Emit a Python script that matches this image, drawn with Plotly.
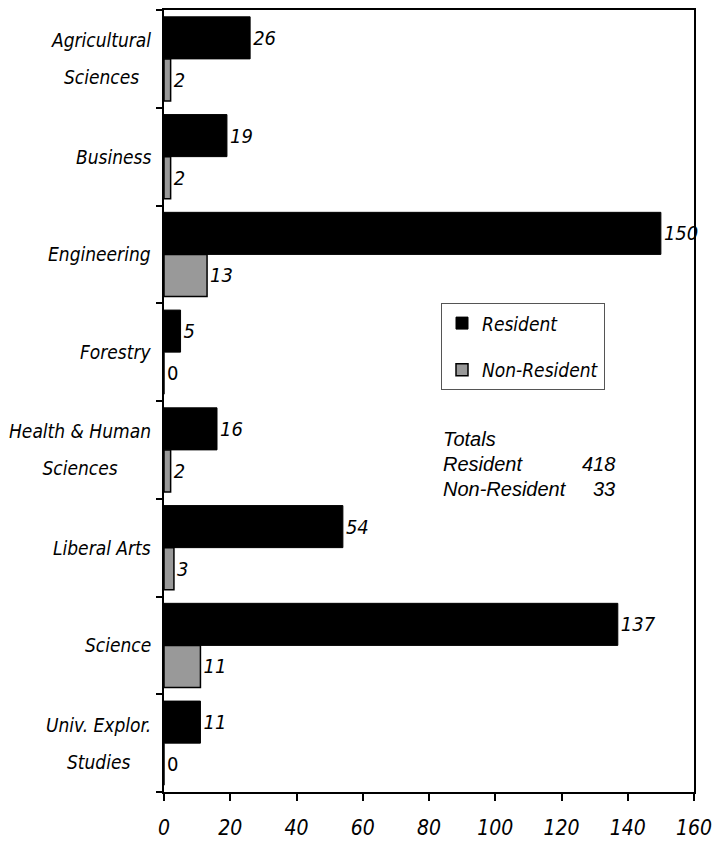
import plotly.graph_objects as go

categories = ["Agricultural<br>Sciences", "Business", "Engineering", "Forestry",
              "Health & Human<br>Sciences", "Liberal Arts", "Science", "Univ. Explor.<br>Studies"]
resident = [26, 19, 150, 5, 16, 54, 137, 11]
non_resident = [2, 2, 13, 0, 2, 3, 11, 0]
x_ticks = [0, 20, 40, 60, 80, 100, 120, 140, 160]
totals_labels = ["Totals", "Resident", "Non-Resident"]
totals_values = ["", "418", "33"]

NARROW = "Liberation Sans Narrow, Arial Narrow, DejaVu Sans Condensed, sans-serif"
REG = "Liberation Sans, Arial, sans-serif"

OFF = 8  # page body margin
W, H = 727 - OFF, 842 - OFF
ML, MR, MT, MB = 156, 33, 0, 50
PW, PH = W - ML - MR, H - MT - MB


def px_x(sx):
    return (sx - OFF - ML) / PW


def px_y(sy):
    return (H - MB - (sy - OFF)) / PH


def lab(v):
    return str(v) if v == 0 else "<i>%d</i>" % v


cat_ids = list(range(len(categories)))

fig = go.Figure()
fig.add_trace(go.Bar(
    y=cat_ids, x=resident, orientation="h", name="<i>Resident</i>",
    marker=dict(color="#000000", line=dict(color="#000000", width=1)),
    text=[lab(v) for v in resident], textposition="outside",
    textfont=dict(family=NARROW, size=20, color="#000"),
    cliponaxis=False, legendgroup="a",
))
fig.add_trace(go.Bar(
    y=cat_ids, x=non_resident, orientation="h", name="<i>Non-Resident</i>",
    marker=dict(color="#999999", line=dict(color="#000000", width=1.5)),
    text=[lab(v) for v in non_resident], textposition="outside",
    textfont=dict(family=NARROW, size=20, color="#000"),
    cliponaxis=False, legendgroup="b",
))

for i, c in enumerate(categories):
    lines = c.split("<br>")
    if len(lines) > 1:
        txt = "<br>".join("<span style='font-size:19px'><i>%s</i></span>" % ln for ln in lines)
        fsize = 28.5  # wider line spacing like the original
    else:
        txt = "<i>%s</i>" % c
        fsize = 19
    fig.add_annotation(x=0, xref="paper", y=i, yref="y", text=txt,
                       xanchor="right", yanchor="middle", align="center", xshift=-11,
                       showarrow=False, font=dict(family=NARROW, size=fsize, color="#000"))

ty = [438, 463, 488]
for i, (l, v) in enumerate(zip(totals_labels, totals_values)):
    fig.add_annotation(x=px_x(441), xref="paper", y=px_y(ty[i]), yref="paper",
                       text="<i>%s</i>" % l, xanchor="left", yanchor="middle",
                       showarrow=False, font=dict(family=REG, size=20, color="#000"))
    if v:
        fig.add_annotation(x=px_x(617), xref="paper", y=px_y(ty[i]), yref="paper",
                           text="<i>%s</i>" % v, xanchor="right", yanchor="middle",
                           showarrow=False, font=dict(family=REG, size=20, color="#000"))

fig.update_layout(
    width=W, height=H,
    margin=dict(l=ML, r=MR, t=MT, b=MB),
    paper_bgcolor="white", plot_bgcolor="white",
    barmode="group", bargap=0.14, bargroupgap=0,
    showlegend=True,
    legend=dict(x=px_x(441), y=px_y(302), xanchor="left", yanchor="top",
                bordercolor="#555", borderwidth=1, bgcolor="white",
                font=dict(family=NARROW, size=19, color="#000"),
                tracegroupgap=19, traceorder="grouped"),
    xaxis=dict(range=[0, 160], tickvals=x_ticks, ticktext=["<i>%d</i>" % t for t in x_ticks],
               showgrid=False, zeroline=False, showline=True, linecolor="#000", linewidth=2,
               mirror=True, ticks="outside", ticklen=7, tickwidth=2, tickcolor="#000",
               ticklabelstandoff=9,
               tickfont=dict(family=NARROW, size=21, color="#000")),
    yaxis=dict(type="linear", range=[7.5, -0.5], showticklabels=False,
               tickvals=[i - 0.5 for i in range(len(categories) + 1)],
               showgrid=False, zeroline=False, showline=True, linecolor="#000", linewidth=2,
               mirror=True, ticks="outside", ticklen=6, tickwidth=2, tickcolor="#000"),
)

fig.write_html("out.html")
